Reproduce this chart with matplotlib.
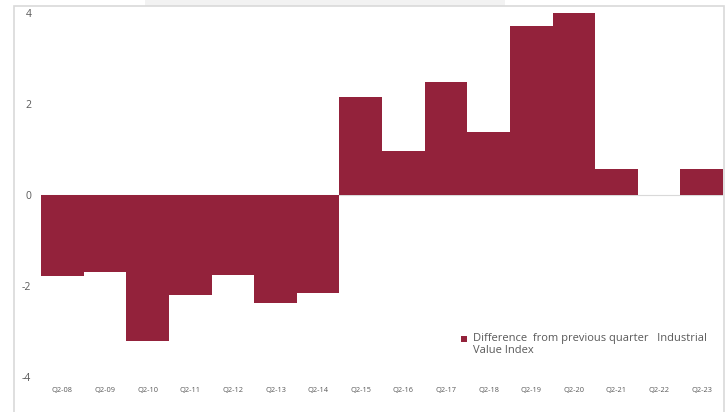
import matplotlib.pyplot as plt
from matplotlib.patches import Rectangle

quarters = ['Q2-08', 'Q2-09', 'Q2-10', 'Q2-11', 'Q2-12', 'Q2-13', 'Q2-14', 'Q2-15',
            'Q2-16', 'Q2-17', 'Q2-18', 'Q2-19', 'Q2-20', 'Q2-21', 'Q2-22', 'Q2-23']
diff = [-1.78, -1.69, -3.21, -2.2, -1.76, -2.37, -2.15, 2.15,
        0.97, 2.48, 1.38, 3.71, 4.0, 0.57, 0.0, 0.57]

bar_color = '#93223b'
text_color = '#595959'

plt.rcParams['font.family'] = ['Open Sans', 'DejaVu Sans']

W, H = 728, 412
fig = plt.figure(figsize=(W / 100, H / 100), dpi=100)

# outer frame and grey strip at the top
fig.patches.append(Rectangle((145 / W, 1 - 6 / H), (505 - 145) / W, 6 / H,
                             transform=fig.transFigure, facecolor='#f2f2f2',
                             edgecolor='none', zorder=0))
fig.patches.append(Rectangle((14 / W, -0.05), (724 - 14) / W, 1.05 - 6 / H,
                             transform=fig.transFigure, facecolor='none',
                             edgecolor='#d9d9d9', linewidth=1.2, zorder=0))

ax = fig.add_axes([41 / W, (H - 377) / H, (723 - 41) / W, (377 - 13) / H])
ax.patch.set_alpha(0)

x = list(range(len(quarters)))
ax.bar(x, diff, width=1.0, color=bar_color, linewidth=0, antialiased=False, zorder=2)
ax.axhline(0, color='#d9d9d9', linewidth=0.8, zorder=1)

ax.set_xlim(-0.5, len(quarters) - 0.5)
ax.set_ylim(-4, 4)
ax.set_yticks([-4, -2, 0, 2, 4])
ax.set_yticklabels(['-4', '-2', '0', '2', '4'], color=text_color, fontsize=7.5)
ax.set_xticks(x)
ax.set_xticklabels(quarters, color=text_color, fontsize=5.3)
ax.tick_params(axis='y', length=0, pad=7)
ax.tick_params(axis='x', length=0, pad=7)
for s in ax.spines.values():
    s.set_visible(False)

# legend
fig.patches.append(Rectangle((461 / W, 1 - 342 / H), 6 / W, 6 / H,
                             transform=fig.transFigure, facecolor=bar_color,
                             edgecolor='none'))
fig.text(473 / W, 1 - 332.5 / H,
         'Difference  from previous quarter   Industrial\nValue Index',
         fontsize=8.0, color=text_color, va='top', ha='left', linespacing=1.15,
         transform=fig.transFigure)

fig.savefig('out.png', dpi=100)
